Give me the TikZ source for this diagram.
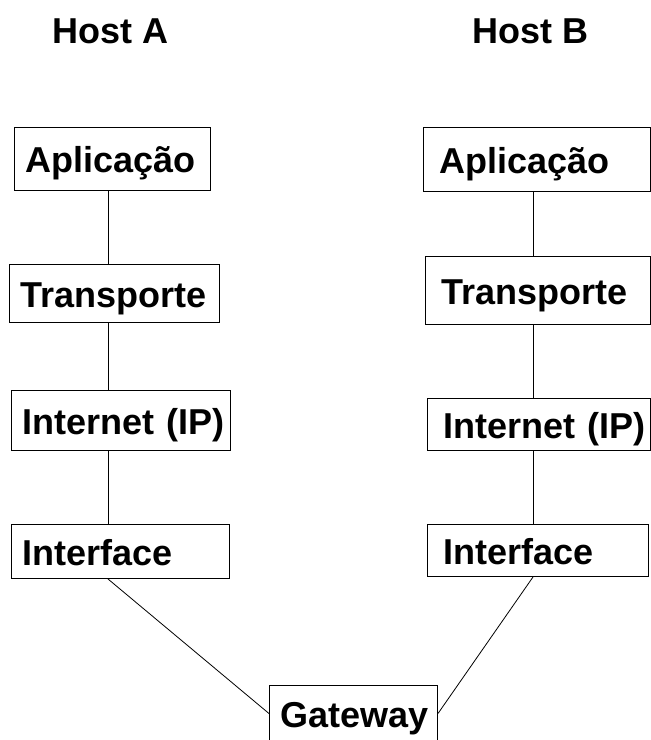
\documentclass[tikz,border=0pt]{standalone}
\usepackage{fontspec}
\setmainfont{Liberation Sans}
\begin{document}
\begin{tikzpicture}[x=1pt, y=-1pt,
    big/.style={font=\bfseries\fontsize{36}{40}\selectfont},
    layer/.style={big, draw, line width=1pt, anchor=north west, align=left,
        inner xsep=11pt, inner ysep=0pt, text height=27pt, text depth=0pt},
    link/.style={line width=0.8pt}]
    \useasboundingbox (0,0) rectangle (651,740);
    \coordinate (colA) at (108,0);
    \coordinate (colB) at (533,0);

    % titulos
    \node[big, anchor=base west, inner sep=0pt] (hostA) at (52,43) {Host A};
    \node[big, anchor=base west, inner sep=0pt] (hostB) at (472,43) {Host B};

    % host A
    \node[layer, text width=174pt, minimum height=63pt] (apA) at (14,127) {Aplicação};
    \node[layer, text width=188pt, minimum height=58pt] (trA) at (9,264) {Transporte};
    \node[layer, text width=197pt, minimum height=60pt] (ipA) at (11,390) {Internet~(IP)};
    \node[layer, text width=196pt, minimum height=54pt] (ifA) at (11,524) {Interface};

    % host B
    \begin{scope}[layer/.append style={inner xsep=16pt}]
    \node[layer, text width=195pt, minimum height=64pt] (apB) at (423,127) {Aplicação};
    \node[layer, text width=193pt, minimum height=68pt] (trB) at (425,256) {Transporte};
    \node[layer, text width=191pt, minimum height=52pt] (ipB) at (427,398) {Internet~(IP)};
    \node[layer, text width=189pt, minimum height=52pt] (ifB) at (427,524) {Interface};
    \end{scope}

    % gateway
    \node[layer, text width=146pt, minimum height=56pt] (gw) at (269,685) {Gateway};

    % ligacoes
    \draw[link] (apA.south -| colA) -- (trA.north -| colA);
    \draw[link] (trA.south -| colA) -- (ipA.north -| colA);
    \draw[link] (ipA.south -| colA) -- (ifA.north -| colA);
    \draw[link] (apB.south -| colB) -- (trB.north -| colB);
    \draw[link] (trB.south -| colB) -- (ipB.north -| colB);
    \draw[link] (ipB.south -| colB) -- (ifB.north -| colB);
    \draw[link] (ifA.south -| colA) -- (gw.west);
    \draw[link] (ifB.south -| colB) -- (gw.east);
\end{tikzpicture}
\end{document}
